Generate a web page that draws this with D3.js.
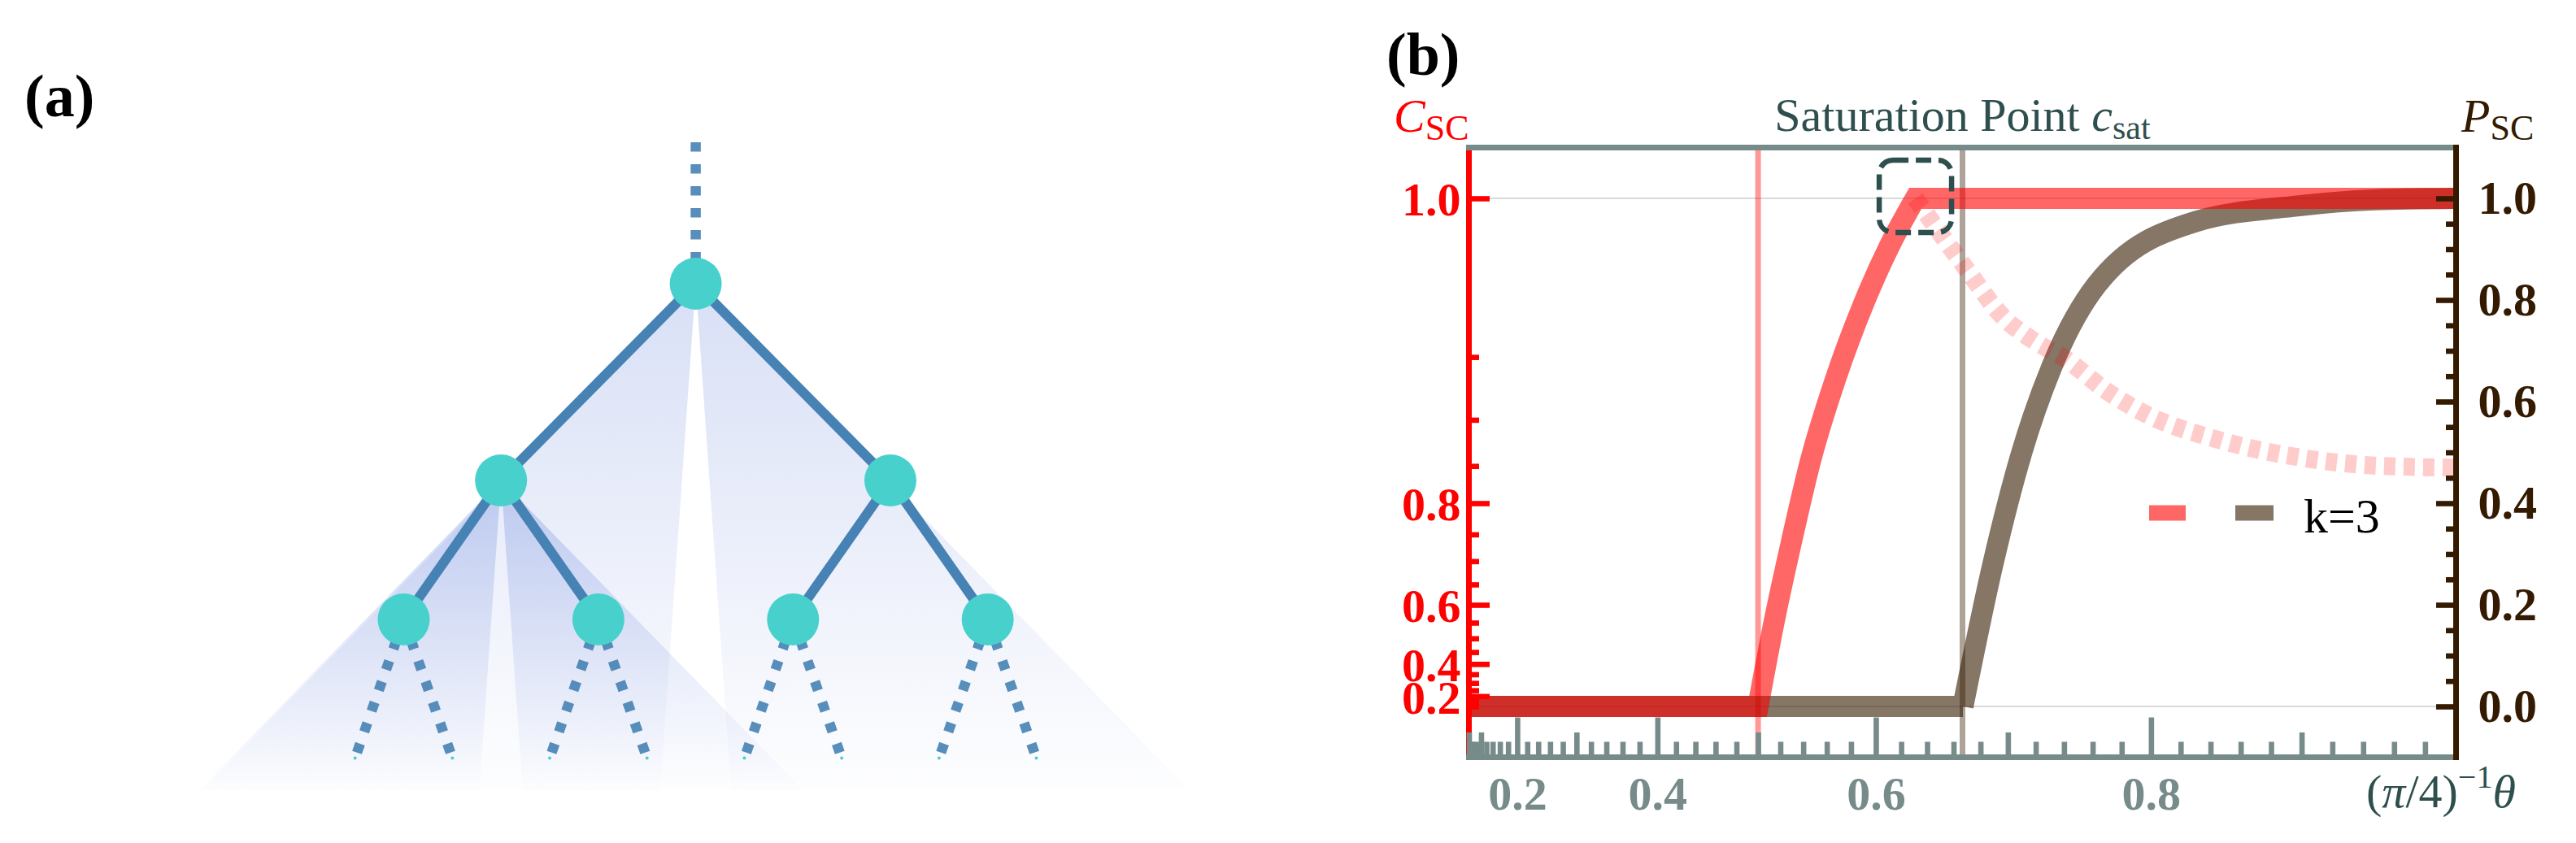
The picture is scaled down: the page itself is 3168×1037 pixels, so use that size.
<!DOCTYPE html>
<html><head><meta charset="utf-8">
<script src="https://cdn.jsdelivr.net/npm/d3@7"></script>
<style>
html,body{margin:0;padding:0;background:#fff;}
svg{display:block;}
text{font-family:"Liberation Serif","Times New Roman",serif;}
</style>
</head><body>
<svg id="chart" width="3168" height="1037"></svg>
<script>
// ================= DATA : panel (b) =================
// horizontal variable v = (pi/4)^-1 theta
const xMajorTicks = [0.2, 0.4, 0.6, 0.8];
const xMajorLabels = ["0.2", "0.4", "0.6", "0.8"];
const xMediumTicks = [0.0, 0.1, 0.3, 0.5, 0.7, 0.9];
const xMinorTicks = d3.range(0, 50).map(i => i * 0.02).filter(v => Math.abs(v * 10 - Math.round(v * 10)) > 1e-6);

// left axis C_SC
const cMajorTicks = [0.2, 0.4, 0.6, 0.8, 1.0];
const cMajorLabels = ["0.2", "0.4", "0.6", "0.8", "1.0"];
const cMinorTicks = [0.0, 0.05, 0.1, 0.15, 0.25, 0.3, 0.35, 0.45, 0.5, 0.55, 0.65, 0.7, 0.75, 0.85, 0.9, 0.95];

// right axis P_SC
const pMajorTicks = [0.0, 0.2, 0.4, 0.6, 0.8, 1.0];
const pMajorLabels = ["0.0", "0.2", "0.4", "0.6", "0.8", "1.0"];
const pMinorTicks = [0.05, 0.1, 0.15, 0.25, 0.3, 0.35, 0.45, 0.5, 0.55, 0.65, 0.7, 0.75, 0.85, 0.9, 0.95];

// C_SC curve (red): flat part, rising part, saturated part
const cFlatV = [0.00, 0.500];
const cFlatC = [0.00, 0.000];
const cRiseV = [0.500, 0.5147, 0.5299, 0.5463, 0.5672, 0.5912, 0.6106, 0.631];
const cRiseC = [0.000, 0.556, 0.738, 0.8567, 0.9346, 0.9795, 0.9955, 1.000];
const cTopV = [0.631, 1.00];
const cTopC = [1.000, 1.00];

// P_SC curve (brown)
const pFlatV = [0.00, 0.667];
const pFlatP = [0.00, 0.000];
const pRiseV = [0.667, 0.689, 0.710, 0.7316, 0.7628, 0.8298, 0.897, 0.947, 1.00];
const pRiseP = [0.000, 0.279, 0.500, 0.670, 0.830, 0.954, 0.985, 0.997, 1.00];

// dotted pale curve (C units)
const dotCurveV = [0.631, 0.6687, 0.6975, 0.7168, 0.7411, 0.770, 0.796, 0.847, 0.897, 0.947, 1.00];
const dotCurveC = [1.000, 0.9907, 0.9717, 0.9608, 0.9487, 0.9250, 0.9057, 0.879, 0.8607, 0.8505, 0.848];

// markers
const redMarkerV = 0.5;
const brownMarkerV = 2 / 3;
const satPointV = 0.631;
const satPointC = 1.0;
const legendLabel = "k=3";

// ================= DATA : panel (a) =================
const treeIds     = ["top", "r", "L", "R", "LL", "LR", "RL", "RR",
                     "LL1", "LL2", "LR1", "LR2", "RL1", "RL2", "RR1", "RR2"];
const treeParents = ["", "top", "r", "r", "L", "L", "R", "R",
                     "LL", "LL", "LR", "LR", "RL", "RL", "RR", "RR"];
const coneNodes = ["r", "L"];

// ================= STYLE =================
const RED = "#ff0000", BROWN = "#331a00", GRAY = "#778b8b", SLATE = "#2f4f4f", GRID = "#cccccc";
const NODE = "#48d1cc", EDGE = "#4682b4";

const svg = d3.select("#chart");

// ================= PANEL (a) =================
const gA = svg.append("g");
const stratify = d3.stratify().id((d, i) => treeIds[i]).parentId((d, i) => treeParents[i] || null);
const root = stratify(treeIds.map(id => ({ id })));
d3.tree().nodeSize([119.7, 1]).separation(() => 1)(root);
const treeX = d3.scaleLinear().domain([0, 1]).range([855.6, 856.6]);
const levelY = d3.scaleLinear().domain([0, 1, 2, 3, 4]).range([175, 349, 591, 762, 932.5]);
const nx = n => treeX(n.x);
const ny = n => levelY(n.depth);
const coneBottom = 972;

const defs = svg.append("defs");
const coneAlpha = { r: 0.26, L: 0.34 };
root.descendants().filter(n => coneNodes.includes(n.id)).forEach(n => {
  const ax = nx(n), ay = ny(n);
  const gid = "cone-" + n.id;
  const lg = defs.append("linearGradient").attr("id", gid)
    .attr("gradientUnits", "userSpaceOnUse").attr("x1", 0).attr("x2", 0).attr("y1", ay).attr("y2", coneBottom);
  lg.append("stop").attr("offset", 0).attr("stop-color", "#6a86dc").attr("stop-opacity", coneAlpha[n.id]);
  lg.append("stop").attr("offset", 1).attr("stop-color", "#6a86dc").attr("stop-opacity", 0.01);
  const h = coneBottom - ay;
  const outer = 0.975, inner = 0.07;
  const wedges = [
    [[ax, ay], [ax - outer * h, coneBottom], [ax - inner * h, coneBottom]],
    [[ax, ay], [ax + inner * h, coneBottom], [ax + outer * h, coneBottom]]
  ];
  wedges.forEach(w => gA.append("path").attr("d", d3.line()(w) + "Z").attr("fill", `url(#${gid})`));
});

root.links().forEach(l => {
  const dotted = l.target.depth === 1 || l.target.depth === 4;
  gA.append("line")
    .attr("x1", nx(l.source)).attr("y1", ny(l.source))
    .attr("x2", nx(l.target)).attr("y2", ny(l.target))
    .attr("stroke", EDGE)
    .attr("stroke-opacity", dotted ? 0.9 : 1)
    .attr("stroke-width", dotted ? 12.5 : 12)
    .attr("stroke-dasharray", dotted ? "11.5,15.5" : null);
});
root.descendants().forEach(n => {
  if (n.depth === 0) return;
  gA.append("circle").attr("cx", nx(n)).attr("cy", ny(n))
    .attr("r", n.depth === 4 ? 2 : 32).attr("fill", NODE);
});
gA.append("text").attr("x", 30).attr("y", 143).attr("font-size", 74).attr("font-weight", "bold")
  .attr("fill", "#000").text("(a)");

// ================= PANEL (b) =================
const vToS = v => 1 - Math.cos(Math.PI * v / 2);      // sin^2 scaling of the theta axis
const cToU = c => 1 - Math.sqrt(Math.max(0, 1 - c * c)); // left axis scaling
const sScale = d3.scaleLinear().domain([0, 1]).range([1806.5, 3020.5]);
const yP = d3.scaleLinear().domain([-0.1, 1.1]).range([931.5, 181.5]);
const xOf = v => sScale(vToS(v));
const yC = c => yP(cToU(c));
const X0 = sScale(0), X1 = sScale(1), YB = yP(-0.1), YT = yP(1.1);

// one continuous path: straight flat part(s) + smooth rising part
function joinedPath(pieces) {
  let d = "";
  pieces.forEach((pc, k) => {
    const pts = pc.v.map((v, i) => [xOf(v), pc.y(pc.val[i])]);
    let s = d3.line().curve(pc.smooth ? d3.curveMonotoneX : d3.curveLinear)(pts);
    if (k > 0) s = s.replace(/^M[^LC]*/, "L" + pts[0][0] + "," + pts[0][1]);
    d += s;
  });
  return d;
}

const gB = svg.append("g");

// grid lines
[0, 1].forEach(p => gB.append("line").attr("x1", X0).attr("x2", X1).attr("y1", yP(p)).attr("y2", yP(p))
  .attr("stroke", GRID).attr("stroke-width", 1.6));

// marker vertical lines
gB.append("line").attr("x1", xOf(redMarkerV)).attr("x2", xOf(redMarkerV)).attr("y1", YT).attr("y2", YB)
  .attr("stroke", RED).attr("stroke-opacity", 0.4).attr("stroke-width", 7);
gB.append("line").attr("x1", xOf(brownMarkerV)).attr("x2", xOf(brownMarkerV)).attr("y1", YT).attr("y2", YB)
  .attr("stroke", BROWN).attr("stroke-opacity", 0.4).attr("stroke-width", 7);

// curves
gB.append("path").attr("d", joinedPath([
    { v: pFlatV, val: pFlatP, y: yP, smooth: false },
    { v: pRiseV, val: pRiseP, y: yP, smooth: true }]))
  .attr("fill", "none").attr("stroke", BROWN)
  .attr("stroke-opacity", 0.6).attr("stroke-width", 26).attr("stroke-linejoin", "miter").attr("stroke-miterlimit", 20);
gB.append("path").attr("d", joinedPath([
    { v: cFlatV, val: cFlatC, y: yC, smooth: false },
    { v: cRiseV, val: cRiseC, y: yC, smooth: true },
    { v: cTopV, val: cTopC, y: yC, smooth: false }]))
  .attr("fill", "none").attr("stroke", RED)
  .attr("stroke-opacity", 0.6).attr("stroke-width", 26).attr("stroke-linejoin", "miter").attr("stroke-miterlimit", 20);
const dLine = d3.line().x((d, i) => xOf(dotCurveV[i])).y((d, i) => yC(dotCurveC[i])).curve(d3.curveMonotoneX);
gB.append("path").attr("d", dLine(dotCurveV)).attr("fill", "none").attr("stroke", RED)
  .attr("stroke-opacity", 0.2).attr("stroke-width", 22).attr("stroke-dasharray", "14,10");

// axes lines
gB.append("line").attr("x1", X0).attr("x2", X0).attr("y1", YT).attr("y2", YB + 3.5)
  .attr("stroke", RED).attr("stroke-width", 7);

function styleAxis(g, color) {
  g.select(".domain").remove();
  g.selectAll(".tick line").attr("stroke", color).attr("stroke-width", 6.6);
  g.selectAll(".tick text").attr("fill", color).attr("font-size", 58).attr("font-weight", "bold")
    .attr("font-family", "'Liberation Serif','Times New Roman',serif");
}

// left axis (C_SC)
const leftMinor = gB.append("g").attr("transform", `translate(${X0},0)`)
  .call(d3.axisLeft(yP).tickValues(cMinorTicks.map(cToU)).tickSizeInner(-12.5).tickSizeOuter(0).tickFormat(""));
styleAxis(leftMinor, RED);
const leftMajor = gB.append("g").attr("transform", `translate(${X0},0)`)
  .call(d3.axisLeft(yP).tickValues(cMajorTicks.map(cToU)).tickSizeInner(-25.5).tickSizeOuter(0).tickPadding(10)
    .tickFormat((d, i) => cMajorLabels[i]));
styleAxis(leftMajor, RED);
leftMajor.selectAll(".tick text").attr("dy", "0.36em");

// bottom axis
const bMinor = gB.append("g").attr("transform", `translate(0,${YB})`)
  .call(d3.axisBottom(sScale).tickValues(xMinorTicks.map(vToS)).tickSizeInner(-19).tickSizeOuter(0).tickFormat(""));
styleAxis(bMinor, GRAY);
const bMed = gB.append("g").attr("transform", `translate(0,${YB})`)
  .call(d3.axisBottom(sScale).tickValues(xMediumTicks.map(vToS)).tickSizeInner(-30.5).tickSizeOuter(0).tickFormat(""));
styleAxis(bMed, GRAY);
const bMajor = gB.append("g").attr("transform", `translate(0,${YB})`)
  .call(d3.axisBottom(sScale).tickValues(xMajorTicks.map(vToS)).tickSizeInner(-49).tickSizeOuter(0).tickPadding(23)
    .tickFormat((d, i) => xMajorLabels[i]));
styleAxis(bMajor, GRAY);

gB.append("line").attr("x1", X0 - 3.5).attr("x2", X1).attr("y1", YB).attr("y2", YB)
  .attr("stroke", GRAY).attr("stroke-width", 7);
gB.append("line").attr("x1", X0 - 3.5).attr("x2", X1).attr("y1", YT).attr("y2", YT)
  .attr("stroke", GRAY).attr("stroke-width", 7);

// right axis (P_SC)
const rMinor = gB.append("g").attr("transform", `translate(${X1},0)`)
  .call(d3.axisRight(yP).tickValues(pMinorTicks).tickSizeInner(-12.5).tickSizeOuter(0).tickFormat(""));
styleAxis(rMinor, BROWN);
const rMajor = gB.append("g").attr("transform", `translate(${X1},0)`)
  .call(d3.axisRight(yP).tickValues(pMajorTicks).tickSizeInner(-24.5).tickSizeOuter(0).tickPadding(27)
    .tickFormat((d, i) => pMajorLabels[i]));
styleAxis(rMajor, BROWN);
gB.append("line").attr("x1", X1).attr("x2", X1).attr("y1", YT - 3.5).attr("y2", YB + 3.5)
  .attr("stroke", BROWN).attr("stroke-width", 7);

// saturation point box
const boxSize = 89;
gB.append("rect").attr("x", xOf(satPointV) - boxSize / 2).attr("y", yC(satPointC) - boxSize / 2 - 2.5)
  .attr("width", boxSize).attr("height", boxSize).attr("rx", 17).attr("ry", 17)
  .attr("fill", "none").attr("stroke", SLATE).attr("stroke-width", 6.5).attr("stroke-dasharray", "19,9");

// legend
const legY = 631;
gB.append("line").attr("x1", 2643).attr("x2", 2688).attr("y1", legY).attr("y2", legY)
  .attr("stroke", RED).attr("stroke-opacity", 0.6).attr("stroke-width", 19);
gB.append("line").attr("x1", 2749).attr("x2", 2796).attr("y1", legY).attr("y2", legY)
  .attr("stroke", BROWN).attr("stroke-opacity", 0.6).attr("stroke-width", 19);
gB.append("text").attr("x", 2833).attr("y", 655).attr("font-size", 60).attr("fill", "#000").text(legendLabel);

// titles
const tC = gB.append("text").attr("x", 1714).attr("y", 162).attr("font-size", 58).attr("fill", RED);
tC.append("tspan").attr("font-style", "italic").text("C");
tC.append("tspan").attr("font-size", 44).attr("dy", 10).text("SC");

const tP = gB.append("text").attr("x", 3027).attr("y", 162).attr("font-size", 58).attr("fill", BROWN);
tP.append("tspan").attr("font-style", "italic").text("P");
tP.append("tspan").attr("font-size", 44).attr("dy", 10).text("SC");

const tT = gB.append("text").attr("x", (X0 + X1) / 2).attr("y", 161).attr("font-size", 58)
  .attr("fill", SLATE).attr("text-anchor", "middle");
tT.append("tspan").text("Saturation Point ");
tT.append("tspan").attr("font-style", "italic").text("c");
tT.append("tspan").attr("font-size", 42).attr("dy", 10).text("sat");

const tX = gB.append("text").attr("x", 2910).attr("y", 993).attr("font-size", 58).attr("fill", SLATE);
tX.append("tspan").text("(");
tX.append("tspan").attr("font-style", "italic").text("π");
tX.append("tspan").text("/4)");
tX.append("tspan").attr("font-size", 40).attr("dy", -24).text("−1");
tX.append("tspan").attr("font-style", "italic").attr("dy", 24).text("θ");

gB.append("text").attr("x", 1705).attr("y", 92).attr("font-size", 74).attr("font-weight", "bold")
  .attr("fill", "#000").text("(b)");
</script>
</body></html>
